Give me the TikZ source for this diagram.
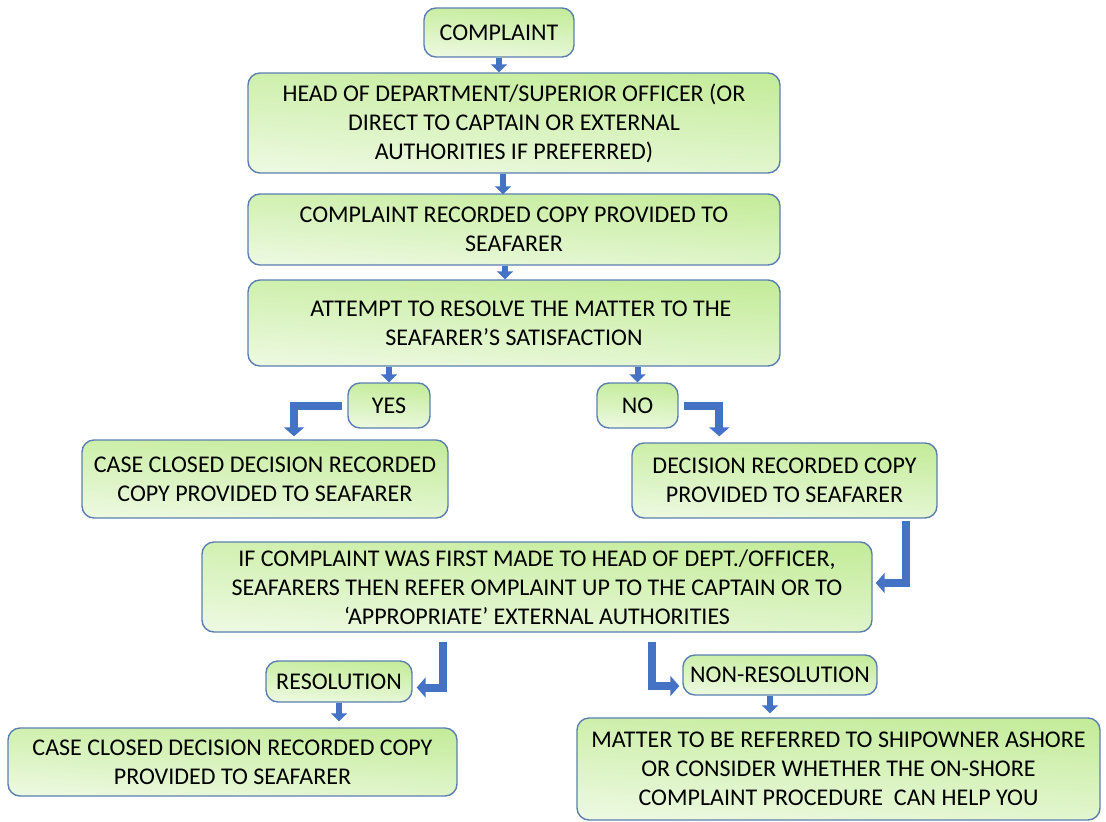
\documentclass[tikz,border=0pt]{standalone}
\usepackage{fontspec}
\setmainfont{Carlito}
\usetikzlibrary{arrows.meta,calc}
\definecolor{boxedge}{HTML}{5B7FB0}
\definecolor{gdark}{HTML}{C4EC9A}
\definecolor{glight}{HTML}{ECF9E0}
\definecolor{arrowblue}{HTML}{4472C4}
\tikzset{
  box/.style={draw=boxedge, line width=1.4pt, rounded corners=12pt,
    bottom color=glight, top color=gdark, shading angle=-4,
    align=center, inner sep=0pt, font=\fontsize{24}{29}\selectfont},
  smallarrow/.style={draw=arrowblue, line width=6pt, -{Triangle[width=16pt,length=8pt]}},
  bentarrow/.style={draw=arrowblue, line width=8pt, -{Triangle[width=20pt,length=9pt]}},
}
\begin{document}
\begin{tikzpicture}[x=1pt,y=-1pt]
\useasboundingbox (0,0) rectangle (1106,822);
\node[box, minimum width=150pt, minimum height=49pt] (c1) at (499,32.5) {COMPLAINT};
\node[box, minimum width=532pt, minimum height=100pt] (c2) at (514,123) {HEAD OF DEPARTMENT/SUPERIOR OFFICER (OR\\DIRECT TO CAPTAIN OR EXTERNAL\\AUTHORITIES IF PREFERRED)};
\node[box, minimum width=532pt, minimum height=71pt] (c3) at (514,229.5) {COMPLAINT RECORDED COPY PROVIDED TO\\SEAFARER};
\node[box, minimum width=532pt, minimum height=86pt] (c4) at (514,323) {\hspace*{14pt}ATTEMPT TO RESOLVE THE MATTER TO THE\\SEAFARER’S SATISFACTION};
\node[box, minimum width=82pt, minimum height=45pt] (yes) at (389,405.5) {YES};
\node[box, minimum width=81pt, minimum height=45pt] (no) at (637.5,405.5) {NO};
\node[box, minimum width=366pt, minimum height=78pt] (c7) at (265,479) {CASE CLOSED DECISION RECORDED\\COPY PROVIDED TO SEAFARER};
\node[box, minimum width=305pt, minimum height=75pt] (c8) at (784.5,480.5) {DECISION RECORDED COPY\\PROVIDED TO SEAFARER};
\node[box, minimum width=670pt, minimum height=90pt] (c9) at (537,587) {IF COMPLAINT WAS FIRST MADE TO HEAD OF DEPT./OFFICER,\\SEAFARERS THEN REFER OMPLAINT UP TO THE CAPTAIN OR TO\\‘APPROPRIATE’ EXTERNAL AUTHORITIES};
\node[box, minimum width=146pt, minimum height=41pt] (res) at (339,681.5) {RESOLUTION};
\node[box, minimum width=194pt, minimum height=40pt] (nres) at (780,675) {NON-RESOLUTION};
\node[box, minimum width=449pt, minimum height=68pt] (c12) at (232.5,762) {CASE CLOSED DECISION RECORDED COPY\\PROVIDED TO SEAFARER};
\node[box, minimum width=523pt, minimum height=102pt] (c13) at (838.5,769) {MATTER TO BE REFERRED TO SHIPOWNER ASHORE\\OR CONSIDER WHETHER THE ON-SHORE\\COMPLAINT PROCEDURE\ \ CAN HELP YOU};
% small arrows
\draw[smallarrow] (c1.south) -- (c1.south |- c2.north);
\draw[smallarrow] ([xshift=-11pt]c2.south) -- ([xshift=-11pt,yshift=-1pt]c2.south |- c3.north);
\draw[smallarrow] ([xshift=-9pt]c3.south) -- ([xshift=-9pt]c3.south |- c4.north);
\draw[smallarrow] (yes.north |- c4.south) -- (yes.north);
\draw[smallarrow] (no.north |- c4.south) -- (no.north);
\draw[smallarrow] (res.south) -- ([yshift=6pt]res.south |- c12.north);
\draw[smallarrow] ([xshift=-10pt]nres.south) -- ([xshift=-10pt,yshift=4pt]nres.south |- c13.north);
% bent arrows
\draw[bentarrow] ([xshift=-5pt]yes.west) -| ([xshift=29pt,yshift=3pt]c7.north);
\draw[bentarrow] ([xshift=5pt]no.east) -| ([xshift=88pt,yshift=6pt]c8.north west);
\draw[bentarrow] ([xshift=-32pt,yshift=-2pt]c8.south east) |- ([xshift=3pt,yshift=4pt]c9.east);
\draw[bentarrow] ([xshift=-94pt,yshift=-9pt]c9.south) |- ([xshift=4pt,yshift=-6pt]res.east);
\draw[bentarrow] ([xshift=115pt,yshift=-9pt]c9.south) |- ([xshift=-3pt,yshift=-11pt]nres.west);
\end{tikzpicture}
\end{document}
